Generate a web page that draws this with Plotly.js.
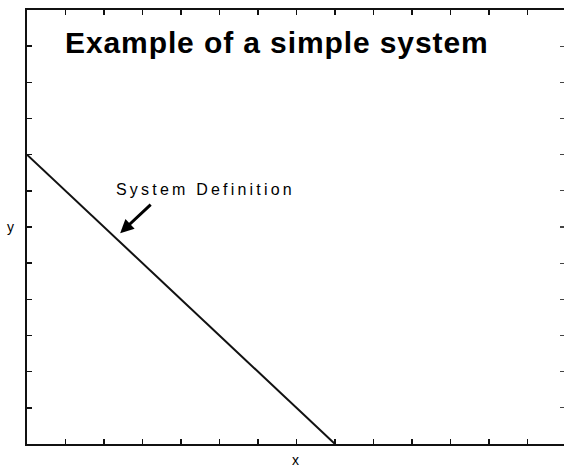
<!DOCTYPE html>
<html>
<head>
<meta charset="utf-8">
<script src="https://cdn.plot.ly/plotly-3.0.1.min.js"></script>
<style>
  html, body { margin: 0; padding: 0; overflow: hidden; background: #fff; }
  #chart { width: 564px; height: 468px; }
  .gtitle { letter-spacing: 0.9px; }
  .annotation-text { letter-spacing: 3.2px; }
</style>
</head>
<body>
<div id="chart"></div>
<script>
// Data
const lineX = [0, 8];
const lineY = [8, 0];
const xTickVals = [0,1,2,3,4,5,6,7,8,9,10,11,12,13,14];
const yTickVals = [0,1,2,3,4,5,6,7,8,9,10,11,12];
const titleText = 'Example of a simple system';
const noteText = 'System Definition';
const xLabel = 'x';
const yLabel = 'y';

const ink = '#111111';
const fam = 'Liberation Sans, Arial, sans-serif';

const trace = {
  x: lineX, y: lineY,
  type: 'scatter', mode: 'lines',
  line: { color: ink, width: 2 },
  hoverinfo: 'skip',
  showlegend: false
};

const axisCommon = {
  ticks: 'inside', ticklen: 5, tickwidth: 1.5, tickcolor: ink,
  tickmode: 'array',
  showticklabels: false,
  showgrid: false, zeroline: false,
  automargin: false,
  fixedrange: true
};

// plot area: 27..564 px wide at 38.5 px per x unit
const xMax = (564 - 27) / 38.5;

const layout = {
  width: 564, height: 468,
  margin: { l: 27, r: 0, t: 10, b: 24, pad: 0, autoexpand: false },
  paper_bgcolor: '#ffffff', plot_bgcolor: '#ffffff',
  title: {
    text: '<b>' + titleText + '</b>',
    font: { family: fam, size: 30, color: '#000' },
    xref: 'paper', x: (65 - 27) / 537, xanchor: 'left',
    yref: 'container', y: 1 - 32 / 468, yanchor: 'top',
    automargin: false
  },
  xaxis: Object.assign({}, axisCommon, {
    range: [0, xMax], tickvals: xTickVals,
    showline: true, linecolor: ink, linewidth: 2, mirror: 'ticks'
  }),
  yaxis: Object.assign({}, axisCommon, {
    range: [0, 12], tickvals: yTickVals,
    showline: true, linecolor: ink, linewidth: 2, mirror: false
  }),
  yaxis2: Object.assign({}, axisCommon, {
    range: [0, 12], tickvals: yTickVals,
    overlaying: 'y', side: 'right', ticklen: 4, tickwidth: 1.2, tickcolor: '#444',
    showline: false
  }),
  annotations: [
    {
      xref: 'x', yref: 'paper', x: 7, y: 0, yshift: -16,
      xanchor: 'center', yanchor: 'middle',
      text: xLabel, showarrow: false,
      font: { family: fam, size: 14, color: '#000' }
    },
    {
      xref: 'paper', yref: 'y', x: 0, xshift: -15, y: 6,
      xanchor: 'center', yanchor: 'middle',
      text: yLabel, showarrow: false,
      font: { family: fam, size: 14, color: '#000' }
    },
    {
      xref: 'x', yref: 'y', x: 2.26, y: 7.05,
      xanchor: 'left', yanchor: 'middle',
      text: noteText, showarrow: false,
      font: { family: fam, size: 16, color: '#000' }
    },
    {
      xref: 'x', yref: 'y', x: 2.42, y: 5.83,
      text: '', showarrow: true,
      ax: 32, ay: -30,
      arrowhead: 2, arrowsize: 0.9, arrowwidth: 3, arrowcolor: '#000'
    }
  ]
};

const ghost = {
  x: [0], y: [0], yaxis: 'y2', type: 'scatter', mode: 'markers',
  marker: { opacity: 0 }, hoverinfo: 'skip', showlegend: false
};

Plotly.newPlot('chart', [trace, ghost], layout, { staticPlot: true, displayModeBar: false });
</script>
</body>
</html>
